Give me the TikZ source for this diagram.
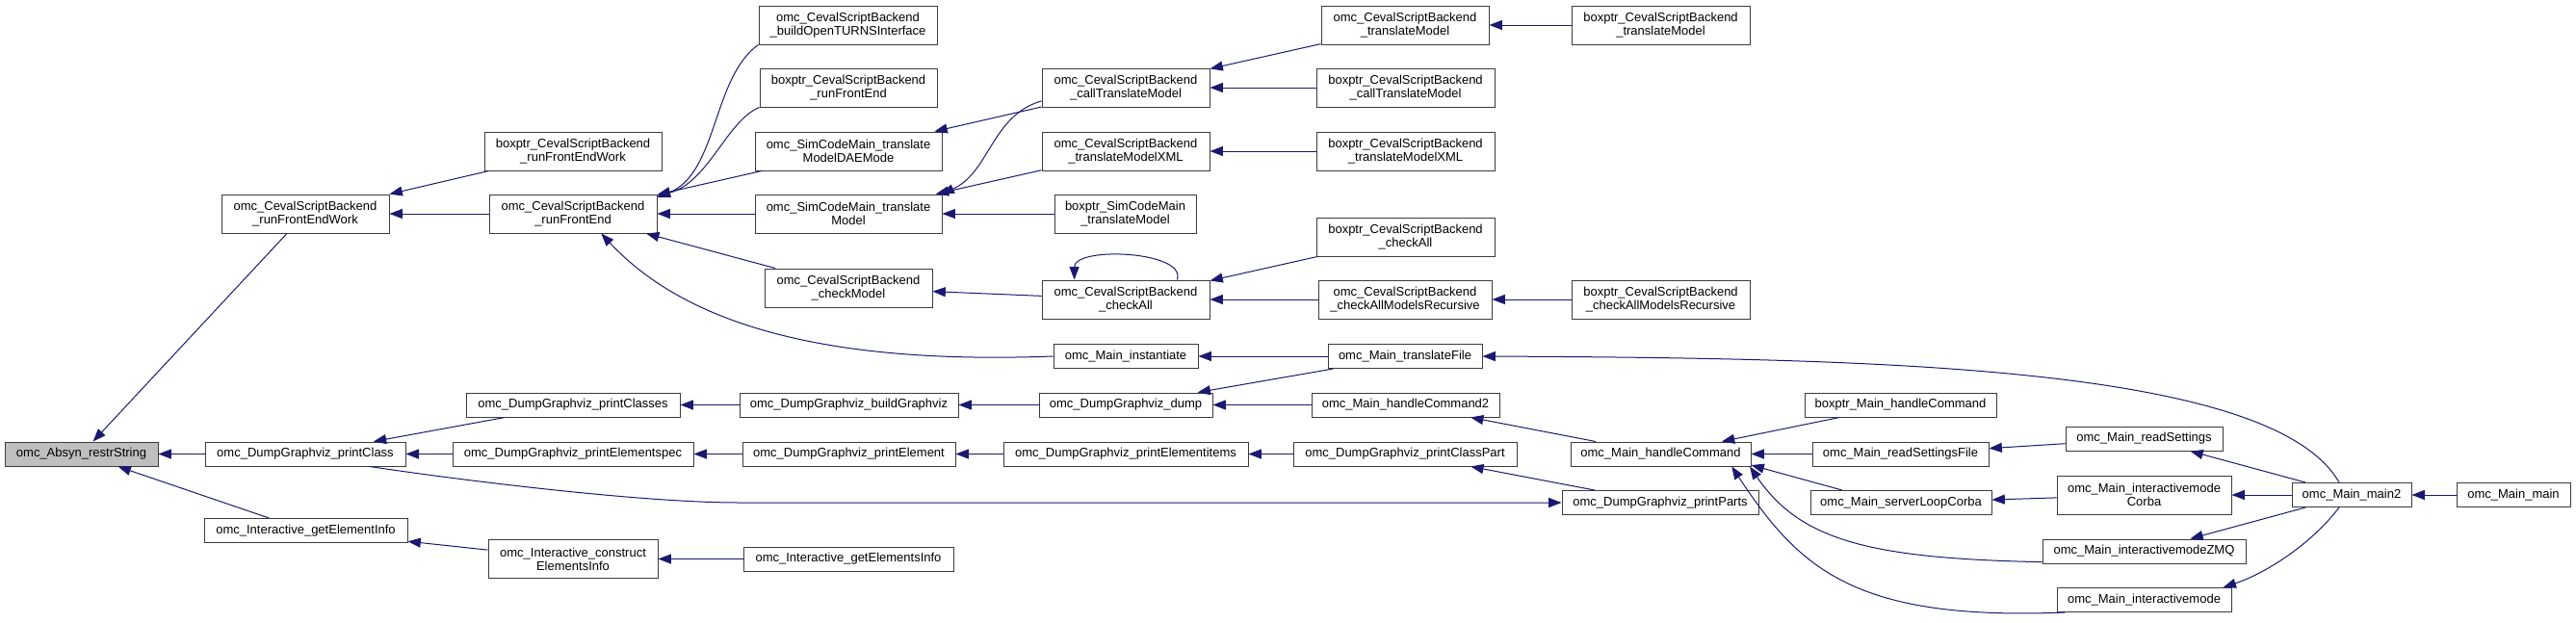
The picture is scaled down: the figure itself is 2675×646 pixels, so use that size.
\documentclass[tikz,border=0pt]{standalone}
\usepackage{fontspec}
\setmainfont{Liberation Sans}
\usetikzlibrary{arrows.meta}
\definecolor{appelblue}{RGB}{25,25,112}
\definecolor{bordgris}{RGB}{60,60,60}
\definecolor{racinegris}{RGB}{191,191,191}
\tikzset{
  >={Triangle[length=10pt,width=7.5pt]},
  fct/.style={draw=bordgris, line width=0.75pt, fill=white, align=center,
    font=\fontsize{9.75}{10.5}\selectfont, inner sep=0pt,
    minimum height=18.75pt, minimum width=#1*0.75pt},
  fct/.default=150,
  fctd/.style={fct=#1, minimum height=30pt},
  fctd/.default=174,
  racine/.style={fct=#1, fill=racinegris},
  appel/.style={->, line width=0.75pt, draw=appelblue},
}

\begin{document}
\begin{tikzpicture}[x=0.75pt, y=-0.75pt]
    \useasboundingbox (0,0) rectangle (2675,646);
    % Colonnes 0 et 1
    \node[racine=159] (absyn)          at (84.5,471.5) {omc\_Absyn\_restrString};
    \node[fctd=174]   (rfew)           at (317,222)    {omc\_CevalScriptBackend\\\_runFrontEndWork};
    \node[fct=208]    (printClass)     at (317,471.5)  {omc\_DumpGraphviz\_printClass};
    \node[fct=211]    (getElementInfo) at (317.5,551)  {omc\_Interactive\_getElementInfo};
    % Colonne 2
    \node[fctd=184] (bpRfew)           at (595,157)    {boxptr\_CevalScriptBackend\\\_runFrontEndWork};
    \node[fctd=174] (rfe)              at (595,222)    {omc\_CevalScriptBackend\\\_runFrontEnd};
    \node[fct=222]  (printClasses)     at (595,420.5)  {omc\_DumpGraphviz\_printClasses};
    \node[fct=250]  (printElementspec) at (595,471.5)  {omc\_DumpGraphviz\_printElementspec};
    \node[fctd=176] (construct)        at (595,580.5)  {omc\_Interactive\_construct\\ElementsInfo};
    % Colonne 3
    \node[fctd=185] (buildOpenTURNS)  at (880.5,26)   {omc\_CevalScriptBackend\\\_buildOpenTURNSInterface};
    \node[fctd=184] (bpRfe)           at (881,91)     {boxptr\_CevalScriptBackend\\\_runFrontEnd};
    \node[fctd=194] (daeMode)         at (881,157)    {omc\_SimCodeMain\_translate\\ModelDAEMode};
    \node[fctd=194] (simTM)           at (881,222)    {omc\_SimCodeMain\_translate\\Model};
    \node[fctd=174] (checkModel)      at (881,299)    {omc\_CevalScriptBackend\\\_checkModel};
    \node[fct=227]  (buildGraphviz)   at (881.5,420.5) {omc\_DumpGraphviz\_buildGraphviz};
    \node[fct=221]  (printElement)    at (881.5,471.5) {omc\_DumpGraphviz\_printElement};
    \node[fct=218]  (getElementsInfo) at (881,580.5)  {omc\_Interactive\_getElementsInfo};
    % Colonne 4
    \node[fctd=174] (callTM)            at (1169,91)    {omc\_CevalScriptBackend\\\_callTranslateModel};
    \node[fctd=174] (tmXML)             at (1169,157)   {omc\_CevalScriptBackend\\\_translateModelXML};
    \node[fctd=147] (bpSimTM)           at (1168.5,222) {boxptr\_SimCodeMain\\\_translateModel};
    \node[fctd=174] (checkAll)          at (1169,311)   {omc\_CevalScriptBackend\\\_checkAll};
    \node[fct=150]  (instantiate)       at (1169,370)   {omc\_Main\_instantiate};
    \node[fct=180]  (dump)              at (1169,420.5) {omc\_DumpGraphviz\_dump};
    \node[fct=254]  (printElementitems) at (1169,471.5) {omc\_DumpGraphviz\_printElementitems};
    % Colonne 5
    \node[fctd=174] (cTM)            at (1459,26)     {omc\_CevalScriptBackend\\\_translateModel};
    \node[fctd=185] (bpCallTM)       at (1459.5,91)   {boxptr\_CevalScriptBackend\\\_callTranslateModel};
    \node[fctd=185] (bpTmXML)        at (1459.5,157)  {boxptr\_CevalScriptBackend\\\_translateModelXML};
    \node[fctd=185] (bpCheckAll)     at (1459.5,246)  {boxptr\_CevalScriptBackend\\\_checkAll};
    \node[fctd=180] (checkAllRec)    at (1459,311)    {omc\_CevalScriptBackend\\\_checkAllModelsRecursive};
    \node[fct=160]  (translateFile)  at (1459,370)    {omc\_Main\_translateFile};
    \node[fct=195]  (handleCommand2) at (1459.5,420.5) {omc\_Main\_handleCommand2};
    \node[fct=232]  (printClassPart) at (1459,471.5)  {omc\_DumpGraphviz\_printClassPart};
    % Colonne 6
    \node[fctd=185] (bpTM)          at (1724.5,26)    {boxptr\_CevalScriptBackend\\\_translateModel};
    \node[fctd=185] (bpCheckAllRec) at (1724.5,311)   {boxptr\_CevalScriptBackend\\\_checkAllModelsRecursive};
    \node[fct=187]  (handleCommand) at (1724.5,471.5) {omc\_Main\_handleCommand};
    \node[fct=204]  (printParts)    at (1724,522)     {omc\_DumpGraphviz\_printParts};
    % Colonne 7
    \node[fct=199] (bpHandleCommand)  at (1973.5,420.5) {boxptr\_Main\_handleCommand};
    \node[fct=183] (readSettingsFile) at (1973.5,471.5) {omc\_Main\_readSettingsFile};
    \node[fct=188] (serverLoopCorba)  at (1974,522)     {omc\_Main\_serverLoopCorba};
    % Colonnes 8 a 10
    \node[fct=163]  (readSettings) at (2226.5,455.5) {omc\_Main\_readSettings};
    \node[fctd=181] (imCorba)      at (2226.5,514)   {omc\_Main\_interactivemode\\Corba};
    \node[fct=211]  (imZMQ)        at (2226.5,572.5) {omc\_Main\_interactivemodeZMQ};
    \node[fct=181]  (im)           at (2226.5,623)   {omc\_Main\_interactivemode};
    \node[fct=124]  (main2)        at (2442,514)     {omc\_Main\_main2};
    \node[fct=118]  (main)         at (2610,514)     {omc\_Main\_main};
    % Appels vers la racine
    \draw[appel] (rfew) -- (absyn);
    \draw[appel] (printClass) -- (absyn);
    \draw[appel] (getElementInfo) -- (absyn);
    \draw[appel] (bpRfew) -- (rfew);
    \draw[appel] (rfe) -- (rfew);
    \draw[appel] (printClasses) -- (printClass);
    \draw[appel] (printElementspec) -- (printClass);
    \draw[appel] (printClass.-11) .. controls +(100,15) and +(-100,0) .. (buildGraphviz.west |- printParts.west) -- (printParts.west);
    \draw[appel] (construct) -- (getElementInfo);
    \draw[appel] (getElementsInfo) -- (construct);
    % Appels vers runFrontEnd
    \draw[appel] (buildOpenTURNS.south west) .. controls +(-48,34) and +(63,-25) .. (rfe.11);
    \draw[appel] (bpRfe.south west) .. controls +(-34,14) and +(53,-13.5) .. (rfe.12);
    \draw[appel] (daeMode) -- (rfe);
    \draw[appel] (simTM) -- (rfe);
    \draw[appel] (checkModel) -- (rfe);
    \draw[appel] (instantiate.west) .. controls +(-214,8) and +(96,103) .. (rfe.-35);
    % Traduction et verification
    \draw[appel] (callTM) -- (daeMode);
    \draw[appel] (callTM.189) .. controls +(-52,15) and +(50,-22) .. (simTM.12);
    \draw[appel] (tmXML) -- (simTM);
    \draw[appel] (bpSimTM) -- (simTM);
    \draw[appel] (checkAll) -- (checkModel);
    \draw[appel] (checkAll.21) .. controls +(10,-30) and +(0,-35) .. (checkAll.159);
    \draw[appel] (cTM) -- (callTM);
    \draw[appel] (bpCallTM) -- (callTM);
    \draw[appel] (bpTmXML) -- (tmXML);
    \draw[appel] (bpCheckAll) -- (checkAll);
    \draw[appel] (checkAllRec) -- (checkAll);
    \draw[appel] (bpTM) -- (cTM);
    \draw[appel] (bpCheckAllRec) -- (checkAllRec);
    % Graphviz
    \draw[appel] (dump) -- (buildGraphviz);
    \draw[appel] (buildGraphviz) -- (printClasses);
    \draw[appel] (printElement) -- (printElementspec);
    \draw[appel] (printElementitems) -- (printElement);
    \draw[appel] (printClassPart) -- (printElementitems);
    \draw[appel] (printParts) -- (printClassPart);
    % Main
    \draw[appel] (translateFile) -- (instantiate);
    \draw[appel] (translateFile) -- (dump);
    \draw[appel] (handleCommand2) -- (dump);
    \draw[appel] (handleCommand) -- (handleCommand2);
    \draw[appel] (bpHandleCommand) -- (handleCommand);
    \draw[appel] (readSettingsFile) -- (handleCommand);
    \draw[appel] (serverLoopCorba.168) -- (handleCommand.-7.5);
    \draw[appel] (imZMQ.186) .. controls +(-181,-3.6) and +(52,76) .. (handleCommand.-8.5);
    \draw[appel] (im.189.5) .. controls +(-219,9) and +(70,106) .. (handleCommand.-10);
    \draw[appel] (readSettings) -- (readSettingsFile);
    \draw[appel] (imCorba) -- (serverLoopCorba);
    \draw[appel] (main2.135) .. controls +(-69,-121) and +(411,2) .. (translateFile.east);
    \draw[appel] (main2) -- (readSettings);
    \draw[appel] (main2) -- (imCorba);
    \draw[appel] (main2) -- (imZMQ);
    \draw[appel] (main2.-135) .. controls +(-29,38) and +(45,-15) .. (im.9.4);
    \draw[appel] (main) -- (main2);
  \end{tikzpicture}
\end{document}
